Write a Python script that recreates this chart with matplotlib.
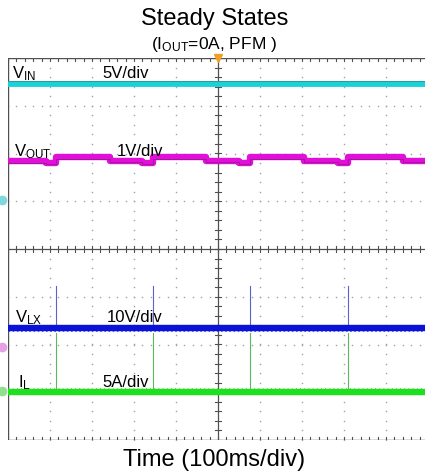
import matplotlib
matplotlib.use("Agg")
import numpy as np
import matplotlib.pyplot as plt

plt.rcParams['font.family'] = ['Liberation Sans', 'DejaVu Sans']
plt.rcParams['mathtext.fontset'] = 'custom'
plt.rcParams['mathtext.rm'] = 'Liberation Sans'

# screen is 10 x 8 divisions, y centred on 0
# trace levels in divisions
vin_level = 3.46
vlx_level = -1.65
il_level = -3.0

# switching events (div) - VLX / IL spikes and VOUT jumps
pulse_t = [1.14, 3.45, 5.76, 8.10]
vlx_spike_top = -0.77
il_spike_top = -1.75

# VOUT ripple as steps: change times (div) and level after each change
vout_t = [0.0, 0.9, 1.14, 2.43, 3.2, 3.45, 4.72, 5.5, 5.76, 7.05, 7.85, 8.10, 9.4, 10.0]
vout_v = [1.84, 1.80, 1.92, 1.85, 1.80, 1.92, 1.85, 1.80, 1.92, 1.85, 1.80, 1.92, 1.85, 1.85]

W, H = 425, 474
fig = plt.figure(figsize=(W / 100, H / 100), dpi=100)

# axes in pixel coords: left 8, top 58, bottom 440, width 10 div of 42 px
x0, y0, y1 = 8, 58, 440
ax = fig.add_axes([x0 / W, 1 - y1 / H, 420 / W, (y1 - y0) / H])
ax.set_xlim(0, 10)
ax.set_ylim(-4, 4)
ax.axis('off')

grid_c = '#a0a0a0'
# dotted graticule
for gx in range(1, 10):
    if gx == 5:
        continue
    ax.plot(np.full(41, gx), np.arange(-4, 4.01, 0.2), ls='none', marker='s',
            ms=1.0, color=grid_c, mew=0)
for gy in range(-3, 4):
    if gy == 0:
        continue
    ax.plot(np.arange(0, 10.01, 0.2), np.full(51, gy), ls='none', marker='s',
            ms=1.0, color=grid_c, mew=0)

# centre axes with minor ticks
axis_c = '#505050'
ax.plot([5, 5], [-4, 4], color=axis_c, lw=0.9)
ax.plot([0, 10], [0, 0], color=axis_c, lw=0.9)
for t in np.arange(0, 10.01, 0.2):
    ax.plot([t, t], [-0.06, 0.06], color=axis_c, lw=0.8)
    ax.plot([t, t], [4, 3.94], color=axis_c, lw=0.8)
    ax.plot([t, t], [-4, -3.94], color=axis_c, lw=0.8)
for t in np.arange(-4, 4.01, 0.2):
    ax.plot([4.92, 5.08], [t, t], color=axis_c, lw=0.8)
# frame
ax.plot([0, 0], [-4, 4], color=axis_c, lw=1.0)
ax.plot([0, 10], [4, 4], color=axis_c, lw=1.0)
ax.plot([0, 10], [-4, -4], color=axis_c, lw=1.0)

# spikes
for t in pulse_t:
    ax.plot([t, t], [vlx_level, vlx_spike_top], color='#5a64c8', lw=0.8)
    ax.plot([t, t], [il_level, il_spike_top], color='#5cb85c', lw=0.8)

# traces
ax.plot([0, 10], [vin_level, vin_level], color='#19d2d8', lw=4.2, solid_capstyle='butt')
ax.plot([0, 10], [vin_level + 0.05, vin_level + 0.05], color='#2a8f95', lw=0.6)
ax.plot(vout_t, vout_v, color='#e010d8', lw=4.6, drawstyle='steps-post',
        solid_capstyle='butt')
ax.plot(vout_t, np.array(vout_v) - 0.03, color='#8a1a86', lw=0.5, drawstyle='steps-post')
ax.plot([0, 10], [vlx_level, vlx_level], color='#0a12d8', lw=4.6, solid_capstyle='butt')
ax.plot([0, 10], [vlx_level - 0.07, vlx_level - 0.07], color='#3a40d8', lw=0.6,
        ls=(0, (2, 3)))
ax.plot([0, 10], [il_level, il_level], color='#1ee01e', lw=4.6, solid_capstyle='butt')
ax.plot([0, 10], [il_level + 0.08, il_level + 0.08], color='#40c840', lw=0.6,
        ls=(0, (1, 4)))

# trigger marker and channel markers
ax.plot([5], [4.0], marker='v', color='#f0a020', ms=6, clip_on=False)
for lvl, c in [(1.03, '#7fd8dc'), (-2.05, '#e6a0e6'), (-2.97, '#90e090')]:
    ax.plot([-0.15], [lvl], marker='o', color=c, ms=6, clip_on=False)

# channel labels
fs = 12
ax.text(0.1, 3.58, r'$\mathregular{V_{IN}}$', fontsize=fs, va='baseline')
ax.text(2.25, 3.58, '5V/div', fontsize=fs, va='baseline')
ax.text(0.15, 1.95, r'$\mathregular{V_{OUT}}$', fontsize=fs, va='baseline')
ax.text(2.6, 1.95, '1V/div', fontsize=fs, va='baseline')
ax.text(0.17, -1.53, r'$\mathregular{V_{LX}}$', fontsize=fs, va='baseline')
ax.text(2.35, -1.53, '10V/div', fontsize=fs, va='baseline')
ax.text(0.25, -2.89, r'$\mathregular{I_{L}}$', fontsize=fs, va='baseline')
ax.text(2.25, -2.89, '5A/div', fontsize=fs, va='baseline')

# titles
fig.text(215 / W, 1 - 25 / H, 'Steady States', ha='center', va='baseline', fontsize=17)
fig.text(214 / W, 1 - 49 / H, r'($\mathregular{I_{OUT}}$=0A, PFM )', ha='center',
         va='baseline', fontsize=12.5)
fig.text(214 / W, 1 - 466 / H, 'Time (100ms/div)', ha='center', va='baseline',
         fontsize=17)

fig.savefig('out.png', dpi=100)
